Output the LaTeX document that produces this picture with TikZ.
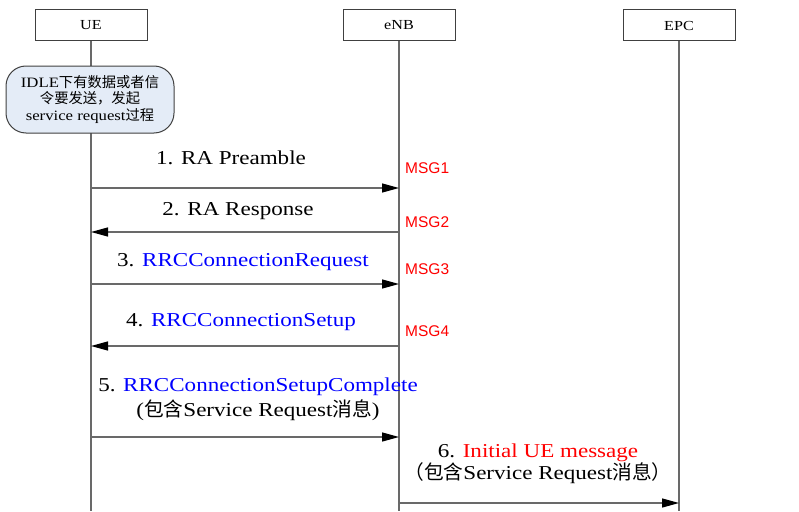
\documentclass[tikz,border=0pt]{standalone}
\usepackage{fontspec}
\setmainfont{Liberation Serif}[FakeStretch=1.17]
\newfontfamily\cjk{Noto Sans CJK SC}
\newfontfamily\msgfont{Liberation Sans}
\usepackage{xcolor}
\usetikzlibrary{arrows.meta, positioning}
\definecolor{idleblue}{RGB}{228,236,247}
\definecolor{linegray}{RGB}{105,105,105}
\tikzset{
  entity/.style={draw=black!75, line width=1pt, minimum width=112pt, minimum height=31pt,
    inner sep=0pt, font=\fontsize{13.8}{15}\selectfont},
  lifeline/.style={draw=linegray, line width=1.3pt},
  msg/.style={draw=linegray, line width=1.3pt,
    -{Triangle[length=17pt, width=9pt, color=black]}},
  lbl/.style={inner sep=0pt, align=center},
  msgno/.style={inner sep=0pt, anchor=west, text=red, font=\msgfont\fontsize{15.5}{18}\selectfont}
}

\begin{document}
\begin{tikzpicture}[x=1pt, y=-1pt]
\useasboundingbox (0,0) rectangle (799,511);

%0
\node[entity] (ue) at (91,25.5) {UE};
\node[entity] (enb) at (399,25.5) {eNB};
\node[entity] (epc) at (679,25.5) {EPC};
\coordinate (ueend) at (ue |- 0,511);
\coordinate (enbend) at (enb |- 0,511);
\coordinate (epcend) at (epc |- 0,511);
\draw[lifeline] (ue) -- (ueend);
\draw[lifeline] (enb) -- (enbend);
\draw[lifeline] (epc) -- (epcend);

\node[draw=black!75, line width=1pt, fill=idleblue, rounded corners=20pt, minimum width=168pt,
    minimum height=67pt, inner sep=0pt, align=center, font=\fontsize{14.3}{16.8}\selectfont]
    (idle) at (90,99.5) {IDLE{\cjk 下有数据或者信}\\{\cjk 令要发送，发起}\\service request{\cjk 过程}};

%1
\coordinate (ue1) at (ue |- 0,188);
\coordinate (enb1) at (enb |- 0,188);
\draw[msg] (ue1) -- (enb1);
    \node[lbl, font=\fontsize{19.7}{23}\selectfont] (l1) at (231,158) {1. RA Preamble};
    \node[msgno] (m1) at (405,168) {MSG1};

%2
\coordinate (ue2) at (ue |- 0,232);
\coordinate (enb2) at (enb |- 0,232);
\draw[msg] (enb2) -- (ue2);
    \node[lbl, font=\fontsize{19.7}{23}\selectfont] (l2) at (238,211) {2. RA Response};
    \node[msgno] (m2) at (405,222) {MSG2};

%3
\coordinate (ue3) at (ue |- 0,284);
\coordinate (enb3) at (enb |- 0,284);
\draw[msg] (ue3) -- (enb3);
    \node[lbl, font=\fontsize{19.7}{23}\selectfont] (l3) at (243,262) {3. \textcolor{blue}{RRCConnectionRequest}};
    \node[msgno] (m3) at (405,269) {MSG3};

%4
\coordinate (ue4) at (ue |- 0,346);
\coordinate (enb4) at (enb |- 0,346);
\draw[msg] (enb4) -- (ue4);
    \node[lbl, font=\fontsize{19.7}{23}\selectfont] (l4) at (241,322) {4. \textcolor{blue}{RRCConnectionSetup}};
    \node[msgno] (m4) at (405,331) {MSG4};

%5
\coordinate (ue5) at (ue |- 0,437);
\coordinate (enb5) at (enb |- 0,437);
\draw[msg] (ue5) -- (enb5);
    \node[lbl, font=\fontsize{19.7}{25}\selectfont] (l5) at (258,399.5)
        {5. \textcolor{blue}{RRCConnectionSetupComplete}\\({\cjk 包含}Service Request{\cjk 消息})};

%6
\coordinate (enb6) at (enb |- 0,503);
\coordinate (epc6) at (epc |- 0,503);
\draw[msg] (enb6) -- (epc6);
    \node[lbl, font=\fontsize{19.7}{22}\selectfont] (l6) at (538,464)
        {6. \textcolor{red}{Initial UE message}\\{\cjk （包含}Service Request{\cjk 消息）}};

\end{tikzpicture}
\end{document}
